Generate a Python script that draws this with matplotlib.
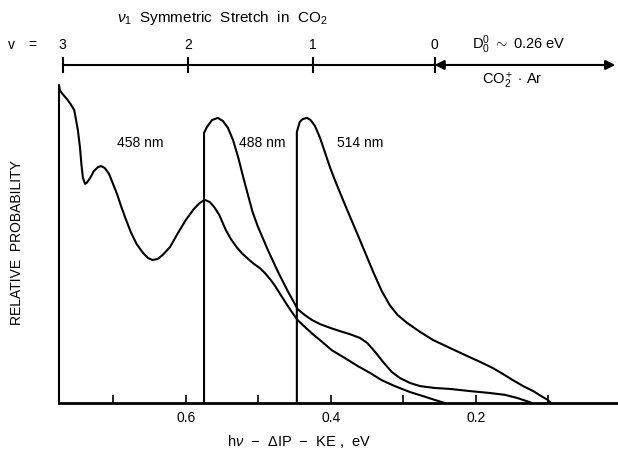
import matplotlib
matplotlib.use("Agg")
import matplotlib.pyplot as plt
from matplotlib.ticker import FixedLocator

plt.rcParams['font.family'] = ['Liberation Sans', 'DejaVu Sans']
plt.rcParams['mathtext.fontset'] = 'custom'
plt.rcParams['mathtext.rm'] = 'Liberation Sans'
plt.rcParams['mathtext.it'] = 'Liberation Sans:italic'

# photodissociation spectra (x in eV, y relative)
x458 = [0.775, 0.775, 0.774, 0.770, 0.764, 0.759, 0.754, 0.752, 0.749, 0.746, 0.744,
        0.742, 0.739, 0.737, 0.732, 0.727, 0.721, 0.717, 0.712, 0.706, 0.701, 0.695,
        0.690, 0.683, 0.676, 0.668, 0.659, 0.652, 0.646, 0.639, 0.632, 0.622, 0.611,
        0.600, 0.589, 0.581, 0.574, 0.567, 0.561, 0.554, 0.545, 0.538, 0.530, 0.523,
        0.514, 0.506, 0.498, 0.491, 0.484, 0.477, 0.470, 0.462, 0.454, 0.446, 0.436,
        0.425, 0.412, 0.399, 0.381, 0.363, 0.346, 0.330, 0.312, 0.291, 0.273, 0.257,
        0.243]
y458 = [0.0, 1.016, 1.000, 0.987, 0.971, 0.955, 0.936, 0.911, 0.872, 0.815, 0.760,
        0.719, 0.700, 0.703, 0.719, 0.741, 0.754, 0.757, 0.751, 0.732, 0.703, 0.668,
        0.633, 0.588, 0.546, 0.508, 0.479, 0.463, 0.457, 0.460, 0.473, 0.498, 0.543,
        0.585, 0.620, 0.639, 0.649, 0.642, 0.626, 0.601, 0.553, 0.524, 0.498, 0.479,
        0.460, 0.444, 0.431, 0.415, 0.396, 0.374, 0.348, 0.319, 0.291, 0.265, 0.243,
        0.220, 0.195, 0.169, 0.144, 0.118, 0.096, 0.073, 0.054, 0.035, 0.022, 0.010,
        0.0]

x488 = [0.575, 0.575, 0.571, 0.564, 0.556, 0.549, 0.542, 0.535, 0.528, 0.521, 0.514,
        0.508, 0.501, 0.494, 0.487, 0.480, 0.473, 0.466, 0.459, 0.452, 0.446, 0.436,
        0.426, 0.415, 0.401, 0.388, 0.374, 0.360, 0.350, 0.339, 0.328, 0.316, 0.305,
        0.291, 0.277, 0.257, 0.236, 0.208, 0.181, 0.160, 0.143, 0.130, 0.123]
y488 = [0.0, 0.863, 0.882, 0.904, 0.911, 0.901, 0.879, 0.840, 0.786, 0.722, 0.661,
        0.610, 0.565, 0.527, 0.489, 0.454, 0.419, 0.387, 0.355, 0.326, 0.300, 0.281,
        0.265, 0.252, 0.240, 0.230, 0.220, 0.208, 0.192, 0.163, 0.131, 0.099, 0.080,
        0.064, 0.054, 0.048, 0.045, 0.038, 0.032, 0.026, 0.016, 0.006, 0.0]

x514 = [0.447, 0.447, 0.443, 0.439, 0.433, 0.428, 0.422, 0.415, 0.408, 0.401, 0.394,
        0.385, 0.374, 0.363, 0.352, 0.341, 0.330, 0.319, 0.308, 0.295, 0.277, 0.259,
        0.236, 0.212, 0.194, 0.177, 0.163, 0.149, 0.135, 0.121, 0.110, 0.101, 0.097]
y514 = [0.0, 0.866, 0.898, 0.907, 0.911, 0.904, 0.885, 0.847, 0.799, 0.751, 0.709,
        0.658, 0.597, 0.537, 0.476, 0.415, 0.358, 0.313, 0.281, 0.256, 0.227, 0.201,
        0.176, 0.150, 0.131, 0.112, 0.093, 0.073, 0.054, 0.038, 0.022, 0.010, 0.0]

curve_labels = ["458 nm", "488 nm", "514 nm"]
label_x = [0.663, 0.495, 0.360]

# nu1 levels of CO2 on the top scale
v_levels = ["3", "2", "1", "0"]
v_energy = [0.770, 0.597, 0.425, 0.257]
d0_end = 0.008

fig = plt.figure(figsize=(6.18, 4.5), dpi=100)
ax = fig.add_axes([59 / 618, 47 / 450, 562 / 618, 323 / 450])

lw = 1.5
for xs, ys in [(x458, y458), (x488, y488), (x514, y514)]:
    ax.plot(xs, ys, color='black', lw=lw, solid_joinstyle='round', clip_on=False)

for lab, lx in zip(curve_labels, label_x):
    ax.text(lx, 0.831, lab, ha='center', va='center', fontsize=10)

ax.set_xlim(0.775, 0.0)
ax.set_ylim(0, 1.032)
for s in ['top', 'left', 'right']:
    ax.spines[s].set_visible(False)
ax.spines['bottom'].set_linewidth(2)
ax.set_yticks([])
ax.xaxis.set_major_locator(FixedLocator([0.6, 0.4, 0.2, 0.0]))
ax.xaxis.set_minor_locator(FixedLocator([0.7, 0.5, 0.3, 0.1]))
ax.set_xticklabels(["0.6", "0.4", "0.2", "0"])
ax.tick_params(axis='x', which='both', direction='in', length=6, width=1.2,
               labelsize=10, pad=6)

ax.set_xlabel(r"h$\nu$  $-$  $\Delta$IP  $-$  KE ,  eV", fontsize=10.5)
ax.xaxis.set_label_coords(0.427, -0.093)
ax.set_ylabel("RELATIVE  PROBABILITY", fontsize=10)
ax.yaxis.set_label_coords(-0.062, 0.498)

# top scale: vibrational levels
ybar = 1.080
ax.plot([v_energy[0], v_energy[-1]], [ybar, ybar], color='black', lw=1.5, clip_on=False)
for v, e in zip(v_levels, v_energy):
    ax.plot([e, e], [ybar - 0.022, ybar + 0.022], color='black', lw=1.5, clip_on=False)
    ax.text(e, 1.144, v, ha='center', va='center', fontsize=10)
ax.text(0.840, 1.144, "v", ha='center', va='center', fontsize=10)
ax.text(0.812, 1.144, "=", ha='center', va='center', fontsize=10)
ax.text(0.550, 1.230, r"$\nu_1$  Symmetric  Stretch  in  CO$_2$", ha='center', va='center',
        fontsize=11)

ax.annotate('', xy=(d0_end, ybar), xytext=(v_energy[-1], ybar), annotation_clip=False,
            arrowprops=dict(arrowstyle='<|-|>', color='black', lw=1.5,
                            mutation_scale=14, shrinkA=0, shrinkB=0))
ax.text(0.141, 1.144, r"D$_0^0$ $\sim$ 0.26 eV", ha='center', va='center', fontsize=10.5)
ax.text(0.150, 1.030, r"CO$_2^+$ $\cdot$ Ar", ha='center', va='center', fontsize=10.5)

fig.savefig("out.png", dpi=100)
